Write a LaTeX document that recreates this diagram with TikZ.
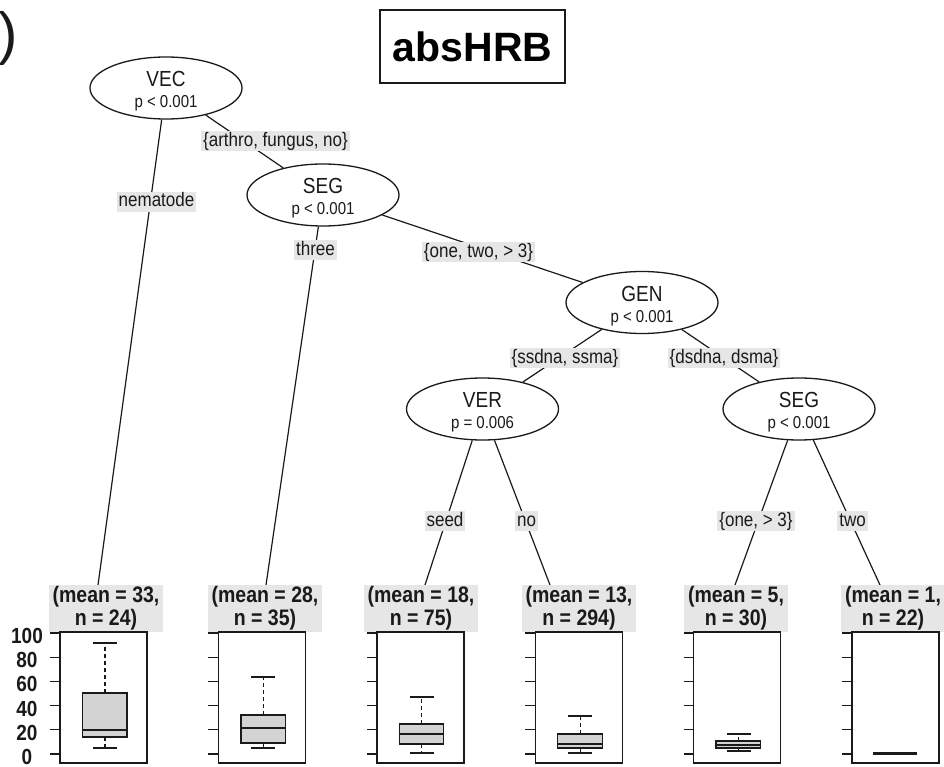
\documentclass[tikz,border=0pt]{standalone}
\usepackage{fontspec}
\setmainfont{Liberation Sans}
\usetikzlibrary{shapes.geometric}
\definecolor{lblgray}{HTML}{E6E6E6}
\definecolor{boxgray}{HTML}{D3D3D3}
\definecolor{ink}{HTML}{1A1A1A}
\newcommand{\setfs}[2]{\fontsize{#1}{#2}\selectfont}
\newcommand{\vs}[1]{\scalebox{1}[1.15]{#1}}
\begin{document}
\begin{tikzpicture}[x=1pt,y=-1pt,
  inner/.style={ellipse, draw=ink, line width=1.3pt, fill=white, minimum width=152pt, minimum height=62pt, inner sep=0pt},
  vname/.style={anchor=base, font=\setfs{19}{21}, inner sep=0pt, text=ink},
  pval/.style={anchor=base, font=\setfs{15}{17}, inner sep=0pt, text=ink},
  elabel/.style={fill=lblgray, font=\setfs{17}{19}, inner xsep=2pt, inner ysep=0.5pt, text height=14.5pt, text depth=4.5pt, text=ink},
  edge/.style={draw=ink, line width=1.2pt},
  tlabel/.style={fill=lblgray, anchor=north, align=center, font=\bfseries\setfs{19.5}{23}, inner xsep=4pt, inner ysep=1.5pt, text=ink},
  panel/.style={draw=ink, line width=1.4pt},
  tickline/.style={draw=ink, line width=1.3pt},
  axlab/.style={font=\bfseries\setfs{19}{21}, inner sep=0pt, text=ink},
  whisk/.style={draw=ink, line width=1.3pt},
  dwhisk/.style={draw=ink, line width=1.3pt, dash pattern=on 4pt off 3pt},
  bpbox/.style={draw=ink, fill=boxgray, line width=1.3pt},
  titlebox/.style={draw=ink, line width=1.4pt, minimum width=185pt, minimum height=73pt, inner sep=0pt, font=\bfseries\setfs{41}{45}}
]
\fill[white] (0,0) rectangle (944,767);
\useasboundingbox (0,0) rectangle (944,767);

% corner mark and title
\node[font=\setfs{58}{60}, inner sep=0pt, text=ink] (paren) at (8,38.5) {)};
\node[titlebox] (title) at (472.5,46.5) {absHRB};

% inner nodes
\node[inner] (VEC) at (166,88) {};
\node[inner] (SEG1) at (323,195) {};
\node[inner] (GEN) at (642,302.5) {};
\node[inner] (VER) at (482.5,409) {};
\node[inner] (SEG2) at (799,409) {};

\node[vname] (VECn) at (166,86.5) {\vs{VEC}};
\node[pval] (VECp) at (166,107.5) {\vs{p < 0.001}};
\node[vname] (SEG1n) at (323,193.5) {\vs{SEG}};
\node[pval] (SEG1p) at (323,214.5) {\vs{p < 0.001}};
\node[vname] (GENn) at (642,301) {\vs{GEN}};
\node[pval] (GENp) at (642,322) {\vs{p < 0.001}};
\node[vname] (VERn) at (482.5,407.5) {\vs{VER}};
\node[pval] (VERp) at (482.5,428.5) {\vs{p = 0.006}};
\node[vname] (SEG2n) at (799,407.5) {\vs{SEG}};
\node[pval] (SEG2p) at (799,428.5) {\vs{p < 0.001}};

% free ends of terminal connectors
\coordinate (t1) at (98,585);
\coordinate (t2) at (266,585);
\coordinate (t3) at (425,585);
\coordinate (t4) at (550,585);
\coordinate (t5) at (735,585);
\coordinate (t6) at (880,585);

% connectors
\draw[edge] (VEC) -- (t1);
\draw[edge] (VEC) -- (SEG1);
\draw[edge] (SEG1) -- (t2);
\draw[edge] (SEG1) -- (GEN);
\draw[edge] (GEN) -- (VER);
\draw[edge] (GEN) -- (SEG2);
\draw[edge] (VER) -- (t3);
\draw[edge] (VER) -- (t4);
\draw[edge] (SEG2) -- (t5);
\draw[edge] (SEG2) -- (t6);

% edge labels
\node[elabel] (e1) at (275.5,141.5) {\vs{\{arthro, fungus, no\}}};
\node[elabel] (e2) at (156.5,202) {\vs{nematode}};
\node[elabel] (e3) at (315.5,250) {\vs{three}};
\node[elabel] (e4) at (478.5,252) {\vs{\{one, two, > 3\}}};
\node[elabel] (e5) at (565,358) {\vs{\{ssdna, ssma\}}};
\node[elabel] (e6) at (724,358) {\vs{\{dsdna, dsma\}}};
\node[elabel] (e7) at (445,521) {\vs{seed}};
\node[elabel] (e8) at (526.5,521) {\vs{no}};
\node[elabel] (e9) at (756,521) {\vs{\{one, > 3\}}};
\node[elabel] (e10) at (852.5,521) {\vs{two}};

% terminal labels
\node[tlabel] (T1) at (106,585) {\vs{(mean = 33,}\\\vs{n = 24)}};
\node[tlabel] (T2) at (265,585) {\vs{(mean = 28,}\\\vs{n = 35)}};
\node[tlabel] (T3) at (421,585) {\vs{(mean = 18,}\\\vs{n = 75)}};
\node[tlabel] (T4) at (579,585) {\vs{(mean = 13,}\\\vs{n = 294)}};
\node[tlabel] (T5) at (736,585) {\vs{(mean = 5,}\\\vs{n = 30)}};
\node[tlabel] (T6) at (893,585) {\vs{(mean = 1,}\\\vs{n = 22)}};

% panels with ticks
\foreach \L in {60,218.4,376.8,535.2,693.6,852} {
  \fill[white] (\L,632) rectangle (\L+87,763);
  \foreach \v in {0,20,40,60,80,100}
    \draw[tickline] (\L-10,{754-1.21*\v}) -- (\L,{754-1.21*\v});
}

% y axis labels
\foreach \v in {0,20,40,60,80,100}
  \node[axlab] (ax\v) at (27,{757-1.21*\v}) {\vs{\v}};

% boxplots
\foreach \L/\ct/\bt/\md/\bb/\cb in {60/643/693/730/737/748, 218.4/677/715/728/743/748, 376.8/697/724/734/744/753, 535.2/716/734/744/748/753, 693.6/734/741/745/748/751} {
  \draw[dwhisk] (\L+45,\bt) -- (\L+45,\ct);
  \draw[dwhisk] (\L+45,\bb) -- (\L+45,\cb);
  \draw[whisk] (\L+33,\ct) -- (\L+57,\ct);
  \draw[whisk] (\L+33,\cb) -- (\L+57,\cb);
  \draw[bpbox] (\L+22.5,\bt) rectangle (\L+67,\bb);
  \draw[whisk] (\L+22.5,\md) -- (\L+67,\md);
}
\draw[draw=ink, line width=3pt] (873,753) -- (917,753);

\foreach \L in {60,218.4,376.8,535.2,693.6,852}
  \draw[panel] (\L,632) rectangle (\L+87,763);
\end{tikzpicture}
\end{document}
